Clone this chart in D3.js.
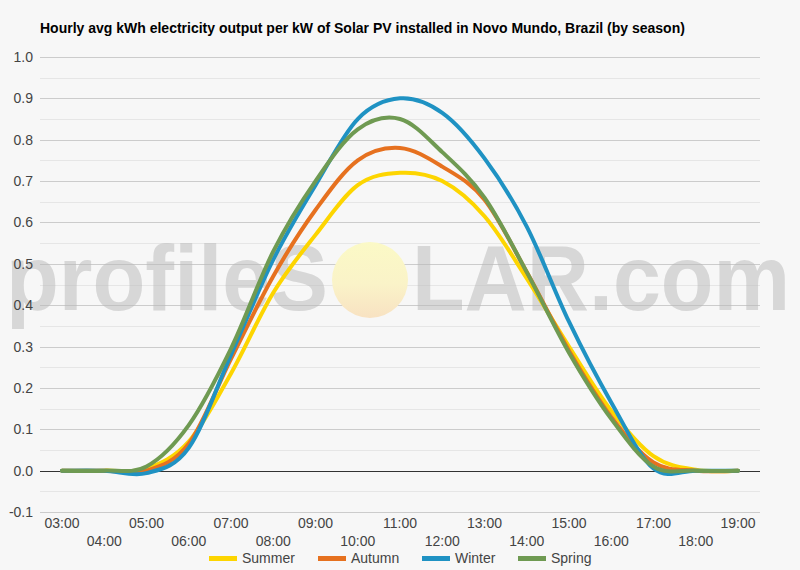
<!DOCTYPE html>
<meta charset="utf-8">
<style>
body { margin: 0; background: #f7f7f7; }
svg { display: block; font-family: Arial, "Liberation Sans", sans-serif; }
.grid line { stroke: #cccccc; stroke-width: 1px; }
.grid line.minor { stroke: #e6e6e6; }
.axis text { fill: #444; font-size: 14px; }
</style>
<body>
<svg id="chart" width="800" height="570"></svg>
<script src="https://cdn.jsdelivr.net/npm/d3@7"></script>
<script>

var width = 800,
    height = 570;

// hourly values
var hours = ["03:00", "04:00", "05:00", "06:00", "07:00", "08:00", "09:00", "10:00", "11:00",
             "12:00", "13:00", "14:00", "15:00", "16:00", "17:00", "18:00", "19:00"];
var summer = [0, 0, 0.005, 0.07, 0.235, 0.43, 0.57, 0.69, 0.72, 0.70, 0.615, 0.465, 0.30, 0.145, 0.035, 0.002, 0];
var autumn = [0, 0, 0, 0.065, 0.27, 0.47, 0.63, 0.75, 0.78, 0.735, 0.655, 0.48, 0.29, 0.13, 0.02, 0, 0];
var winter = [0, 0, -0.006, 0.055, 0.28, 0.51, 0.69, 0.85, 0.90, 0.865, 0.755, 0.59, 0.36, 0.165, 0.005, 0, 0];
var spring = [0, 0, 0.01, 0.11, 0.295, 0.53, 0.70, 0.825, 0.85, 0.77, 0.66, 0.48, 0.285, 0.125, 0.01, 0, 0];
var seasons = ["Summer", "Autumn", "Winter", "Spring"];
var yTicks = [-0.1, 0, 0.1, 0.2, 0.3, 0.4, 0.5, 0.6, 0.7, 0.8, 0.9, 1.0];

var colors = {"Summer": "#fdd500", "Autumn": "#e6711f", "Winter": "#1f92c3", "Spring": "#6f9a52"};
var series = {"Summer": summer, "Autumn": autumn, "Winter": winter, "Spring": spring};

var svg = d3.select("#chart");

svg.append("rect").attr("width", width).attr("height", height).attr("fill", "#f7f7f7");

var x = d3.scalePoint()
          .domain(hours)
          .range([62, 738]);

var y = d3.scaleLinear()
          .domain([-0.1, 1.0])
          .range([512, 57]);

// gridlines (major + minor halfway)
var minor = d3.range(-0.05, 1.0, 0.1);
var grid = svg.append("g").attr("class", "grid");
grid.selectAll("line.minor")
    .data(minor)
    .enter().append("line")
    .attr("class", "minor")
    .attr("x1", 40).attr("x2", 760)
    .attr("y1", d => Math.round(y(d)) + 0.5)
    .attr("y2", d => Math.round(y(d)) + 0.5);
grid.selectAll("line.major")
    .data(yTicks)
    .enter().append("line")
    .attr("class", "major")
    .attr("x1", 40).attr("x2", 760)
    .attr("y1", d => Math.round(y(d)) + 0.5)
    .attr("y2", d => Math.round(y(d)) + 0.5);

// watermark
var wm = svg.append("g");
wm.append("text")
  .attr("x", 6).attr("y", 310)
  .attr("font-size", 92)
  .attr("font-weight", "bold")
  .attr("fill", "#b8b8b8")
  .attr("fill-opacity", 0.5)
  .attr("textLength", 322)
  .attr("lengthAdjust", "spacingAndGlyphs")
  .text("profileS");
var sunGrad = svg.append("defs").append("linearGradient")
                 .attr("id", "sun").attr("x1", 0).attr("y1", 0).attr("x2", 0).attr("y2", 1);
sunGrad.append("stop").attr("offset", "0%").attr("stop-color", "#fbf9c6");
sunGrad.append("stop").attr("offset", "55%").attr("stop-color", "#faf3c8");
sunGrad.append("stop").attr("offset", "100%").attr("stop-color", "#f8e2c2");
wm.append("ellipse")
  .attr("cx", 370).attr("cy", 280).attr("rx", 38).attr("ry", 38)
  .attr("fill", "url(#sun)");
wm.append("text")
  .attr("x", 412).attr("y", 310)
  .attr("font-size", 92)
  .attr("font-weight", "bold")
  .attr("fill", "#b8b8b8")
  .attr("fill-opacity", 0.5)
  .attr("textLength", 378)
  .attr("lengthAdjust", "spacingAndGlyphs")
  .text("LAR.com");

// zero baseline
svg.append("line")
   .attr("x1", 40).attr("x2", 760)
   .attr("y1", Math.round(y(0)) + 0.5).attr("y2", Math.round(y(0)) + 0.5)
   .attr("stroke", "#333").attr("stroke-width", 1);

// y labels
svg.append("g").attr("class", "axis")
   .selectAll("text")
   .data(yTicks)
   .enter().append("text")
   .attr("x", 33)
   .attr("y", d => y(d) + 5)
   .attr("text-anchor", "end")
   .text(d => d.toFixed(1));

// x labels, alternating rows
svg.append("g").attr("class", "axis")
   .selectAll("text")
   .data(hours)
   .enter().append("text")
   .attr("x", d => x(d))
   .attr("y", (d, i) => i % 2 === 0 ? 528 : 546)
   .attr("text-anchor", "middle")
   .text(d => d);

// lines
var line = d3.line()
             .x((d, i) => x(hours[i]))
             .y(d => y(d))
             .curve(d3.curveCardinal.tension(0));

seasons.forEach(function(s) {
  svg.append("path")
     .attr("d", line(series[s]))
     .attr("fill", "none")
     .attr("stroke", colors[s])
     .attr("stroke-width", 4)
     .attr("stroke-linecap", "round")
     .attr("stroke-linejoin", "round");
});

// legend
var legendX = [209, 318, 422, 518];
var legend = svg.append("g").attr("class", "axis");
seasons.forEach(function(s, i) {
  legend.append("rect")
        .attr("x", legendX[i]).attr("y", 556)
        .attr("width", 28).attr("height", 5)
        .attr("fill", colors[s]);
  legend.append("text")
        .attr("x", legendX[i] + 33).attr("y", 563)
        .text(s);
});

// title
svg.append("text")
   .attr("x", 40).attr("y", 33)
   .attr("font-size", 14)
   .attr("font-weight", "bold")
   .attr("fill", "#000")
   .text("Hourly avg kWh electricity output per kW of Solar PV installed in Novo Mundo, Brazil (by season)");

</script>
</body>
